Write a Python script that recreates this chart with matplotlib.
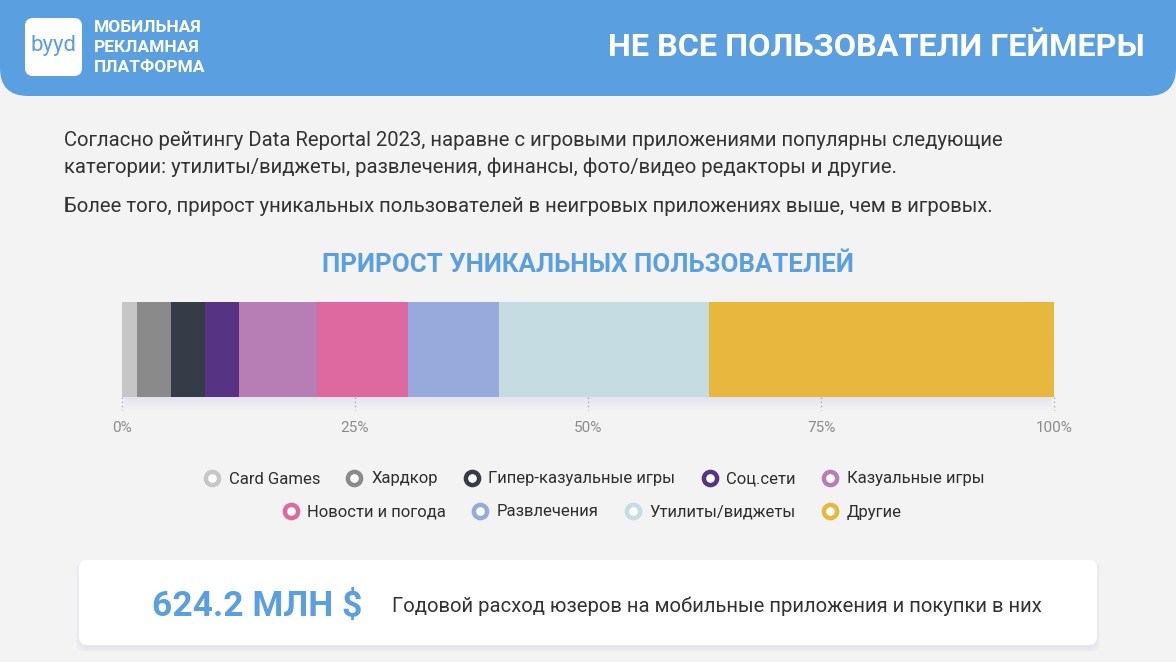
import matplotlib
matplotlib.use('Agg')
import matplotlib.pyplot as plt
from matplotlib.patches import FancyBboxPatch, Rectangle
from matplotlib.lines import Line2D

categories = ['Card Games', 'Хардкор', 'Гипер-казуальные игры', 'Соц.сети', 'Казуальные игры',
              'Новости и погода', 'Развлечения', 'Утилиты/виджеты', 'Другие']
shares = [1.6, 3.7, 3.6, 3.7, 8.3, 9.8, 9.8, 22.5, 37.0]
colors = ['#C6C6C6', '#8A8A8A', '#353C47', '#573384', '#B77DB5',
          '#DE69A0', '#98AADB', '#C4DCE2', '#E8B73D']
tick_values = [0, 25, 50, 75, 100]
tick_labels = ['0%', '25%', '50%', '75%', '100%']

BLUE = '#5A9FE0'
BG = '#F3F3F4'
W, H = 1176, 662

plt.rcParams['font.family'] = ['Roboto', 'DejaVu Sans']

fig = plt.figure(figsize=(W / 100, H / 100), dpi=100, facecolor=BG)

# background layer in pixel coords
bg = fig.add_axes([0, 0, 1, 1])
bg.set_xlim(0, W)
bg.set_ylim(H, 0)
bg.axis('off')

# header band
bg.add_patch(FancyBboxPatch((0, -60), W, 156, boxstyle='round,pad=0,rounding_size=28',
                            fc=BLUE, ec='none'))
bg.add_patch(FancyBboxPatch((25, 18), 57, 58, boxstyle='round,pad=0,rounding_size=8',
                            fc='white', ec='none'))
bg.text(53.5, 46, 'byyd', color=BLUE, fontsize=16, ha='center', va='center')
for i, line in enumerate(['МОБИЛЬНАЯ', 'РЕКЛАМНАЯ', 'ПЛАТФОРМА']):
    bg.text(94, 27 + 20 * i, line, color='white', fontsize=12.5, fontweight='bold', va='center')
bg.text(1145, 47, 'НЕ ВСЕ ПОЛЬЗОВАТЕЛИ ГЕЙМЕРЫ', color='white', fontsize=23.3,
        fontweight='bold', ha='right', va='center')

# body text
body = '#333333'
bg.text(64, 141, 'Согласно рейтингу Data Reportal 2023, наравне с игровыми приложениями популярны следующие',
        color=body, fontsize=14.6, va='center')
bg.text(64, 167, 'категории: утилиты/виджеты, развлечения, финансы, фото/видео редакторы и другие.',
        color=body, fontsize=14.6, va='center')
bg.text(64, 207, 'Более того, прирост уникальных пользователей в неигровых приложениях выше, чем в игровых.',
        color=body, fontsize=14.6, va='center')
bg.text(588, 265, 'ПРИРОСТ УНИКАЛЬНЫХ ПОЛЬЗОВАТЕЛЕЙ', color=BLUE, fontsize=18.6,
        fontweight='bold', ha='center', va='center')

# soft shadow under the bar
for k in range(6):
    bg.add_patch(Rectangle((124, 397 + 2 * k), 928, 2, fc='#D9D6EA', ec='none', alpha=0.5 - 0.08 * k))

# bottom card with shadow
for k, a in enumerate([0.05, 0.05, 0.05, 0.04]):
    bg.add_patch(FancyBboxPatch((79 - k, 562 - k + 2), 1018 + 2 * k, 85 + 2 * k,
                                boxstyle='round,pad=0,rounding_size=9', fc='#B8B8CC', ec='none', alpha=a))
bg.add_patch(FancyBboxPatch((79, 560), 1018, 85, boxstyle='round,pad=0,rounding_size=8',
                            fc='white', ec='none'))
bg.text(152, 606, '624.2 МЛН $', color=BLUE, fontsize=25.5, fontweight='bold', va='center')
bg.text(392, 606, 'Годовой расход юзеров на мобильные приложения и покупки в них',
        color=body, fontsize=14.6, va='center')

# stacked bar
ax = fig.add_axes([121.7 / W, 1 - 397 / H, 932.6 / W, 95 / H])
ax.patch.set_alpha(0)
left = 0
for val, col in zip(shares, colors):
    ax.barh(0, val, left=left, height=1, color=col, linewidth=0)
    left += val
ax.set_xlim(0, 100)
ax.set_ylim(-0.5, 0.5)
for s in ax.spines.values():
    s.set_visible(False)
ax.set_yticks([])
ax.set_xticks(tick_values)
ax.set_xticklabels(tick_labels)
ax.tick_params(axis='x', length=0, pad=17.5, labelsize=11, labelcolor='#8C8C8C')
for t in tick_values:
    ax.plot([t, t], [-0.5, -0.64], color='#A8A8B4', lw=1, linestyle=(0, (1, 2)), clip_on=False)

# legend in two rows
def ring(c):
    return Line2D([], [], marker='o', linestyle='', markersize=9.5, markerfacecolor='white',
                  markeredgecolor=c, markeredgewidth=3.2)

handles = [ring(c) for c in colors]
leg_kw = dict(loc='center', frameon=False, handletextpad=0.5, columnspacing=1.55,
              handlelength=1.0, prop={'size': 12})
leg1 = fig.legend(handles[:5], categories[:5], ncol=5, bbox_to_anchor=(594 / W, 1 - 479 / H), **leg_kw)
leg2 = fig.legend(handles[5:], categories[5:], ncol=4, bbox_to_anchor=(592 / W, 1 - 512 / H), **leg_kw)
for lg in (leg1, leg2):
    for txt in lg.get_texts():
        txt.set_color('#2E2E2E')

fig.savefig('out.png', dpi=100, facecolor=BG)
